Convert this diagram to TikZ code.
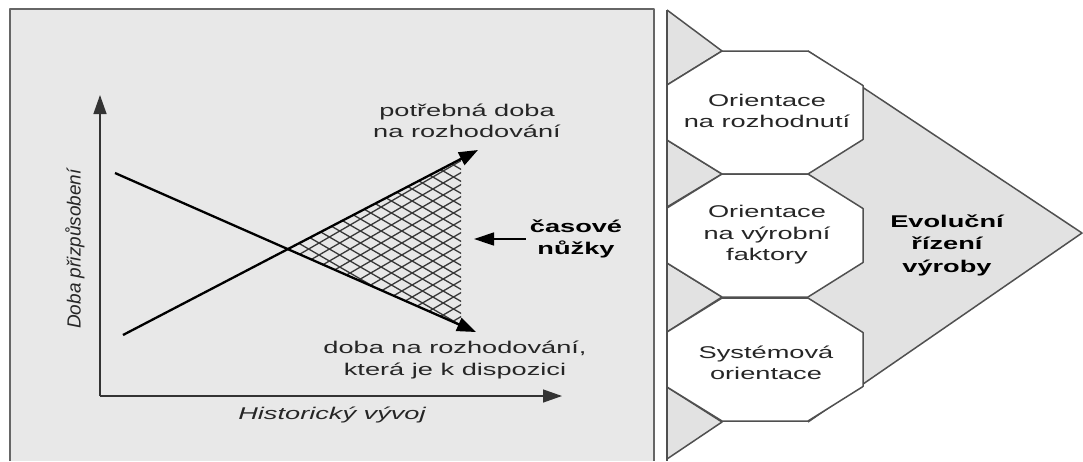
\documentclass[tikz,border=0pt]{standalone}
\usepackage{fontspec}
\setmainfont{Liberation Sans}[FakeStretch=1.6]
\newfontfamily\axisfont{Liberation Sans}
\usetikzlibrary{arrows.meta}
\definecolor{panelgray}{RGB}{232,232,232}
\definecolor{shadegray}{RGB}{226,226,226}
\definecolor{edgegray}{RGB}{80,80,80}

\begin{document}
\begin{tikzpicture}[x=1pt,y=-1pt,line join=round,
  font=\fontsize{17}{21.5}\selectfont,
  lbl/.style={text=black!85,align=center,inner sep=0pt},
  boldlbl/.style={lbl,text=black,font=\fontsize{17}{22.5}\selectfont\bfseries},
  axisline/.style={black!80,line width=1.4pt,-{Triangle[length=19pt,width=13pt]}},
  trendline/.style={black,line width=2.3pt,-{Triangle[length=19pt,width=14pt]}},
  hatchline/.style={black!78,line width=1.3pt},
  octo/.style={draw=edgegray,fill=white,line width=1.5pt},
  notch/.style={draw=edgegray,fill=shadegray,line width=1.5pt}]
\useasboundingbox (0,0) rectangle (1083,461);
% left panel
\fill[panelgray] (10,9) rectangle (654,461);
\draw[black!60,line width=1.6pt] (10,461) -- (10,9) -- (654,9) -- (654,461);
\coordinate (origin) at (100,396);
\coordinate (ytip) at (100,95);
\coordinate (xtip) at (562,396);
\coordinate (fallstart) at (115,173);
\coordinate (fallend) at (476,332);
\coordinate (risestart) at (123,335);
\coordinate (riseend) at (478,150);
\coordinate (cross) at (288,249);
\coordinate (gaptip) at (474,239);
\begin{scope}
\clip (cross) -- (461,159) -- (461,325) -- cycle;
\foreach \k in {-20,...,20}{
  \draw[hatchline] (280,{249+\k*12-0.58*8}) -- (470,{249+\k*12+0.58*182});
  \draw[hatchline] (280,{249+\k*12+0.58*8}) -- (470,{249+\k*12-0.58*182});
}
\end{scope}
\draw[axisline] (origin) -- (ytip);
\draw[axisline] (origin) -- (xtip);
\draw[trendline] (fallstart) -- (fallend);
\draw[trendline] (risestart) -- (riseend);
\node[lbl] (needlbl) at (467,121) {potřebná doba\\na rozhodování};
\node[lbl] (availlbl) at (455,360) {doba na rozhodování,\\která je k dispozici};
\node[boldlbl] (gaplbl) at (576,239) {časové\\nůžky};
\draw[black,line width=1.4pt,shorten <=4pt,-{Triangle[length=20pt,width=13pt]}] (gaplbl.west) -- (gaptip);
\node[lbl,rotate=90,font=\axisfont\itshape\fontsize{19}{22}\selectfont] (ylbl) at (75,249) {Doba přizpůsobení};
\node[lbl,font=\fontsize{17}{21.5}\selectfont\itshape] (xlbl) at (332,415) {Historický vývoj};
% right part
\fill[shadegray] (808,51) -- (1082,233) -- (808,422) -- cycle;
\draw[edgegray,line width=1.5pt] (808,51) -- (1082,233) -- (808,422);
\foreach \ya/\yb/\yc in {10/51/85, 140/174/207, 263/297/332, 387/422/459}
  \filldraw[notch] (667,\ya) -- (722,\yb) -- (667,\yc);
\foreach \ym in {112.5,235.5,359.5}
  \filldraw[octo] (667,{\ym-27.5}) -- (722,{\ym-61.5}) -- (808,{\ym-61.5}) -- (863,{\ym-27}) -- (863,{\ym+27}) -- (808,{\ym+61.5}) -- (722,{\ym+61.5}) -- (667,{\ym+27.5}) -- cycle;
\draw[edgegray,line width=1.5pt] (667,10) -- (667,461);
\node[lbl] (decision) at (767,111) {Orientace\\na rozhodnutí};
\node[lbl] (factors) at (767,235) {Orientace\\na výrobní\\faktory};
\node[lbl] (system) at (766,363) {Systémová\\orientace};
\node[boldlbl] (evolution) at (947,245) {Evoluční\\řízení\\výroby};
\end{tikzpicture}
\end{document}
